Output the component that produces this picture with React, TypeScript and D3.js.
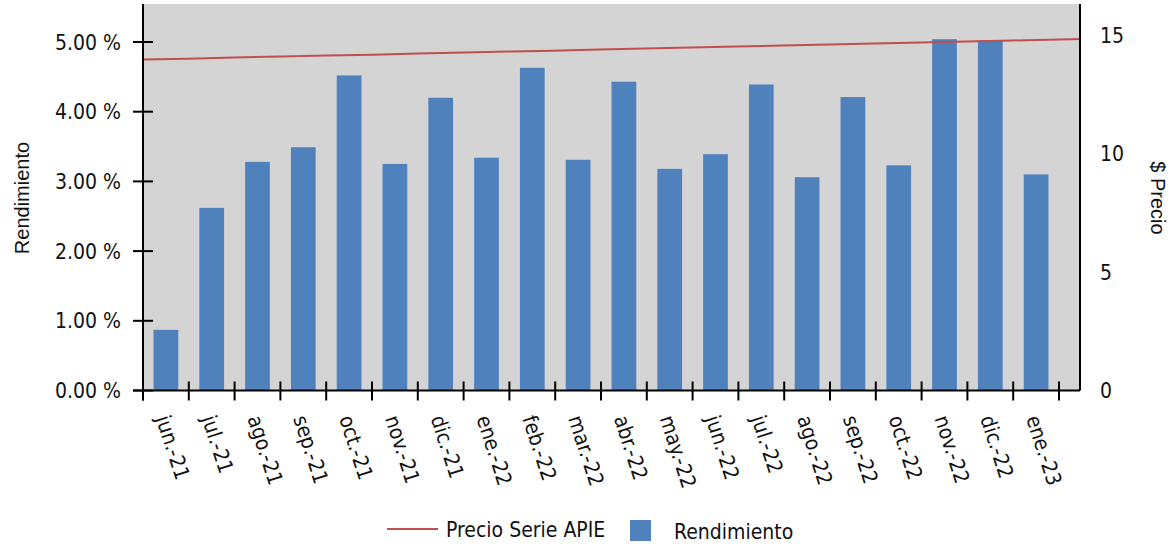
import * as d3 from "d3"

const months = [
    "jun.-21", "jul.-21", "ago.-21", "sep.-21", "oct.-21", "nov.-21", "dic.-21",
    "ene.-22", "feb.-22", "mar.-22", "abr.-22", "may.-22", "jun.-22", "jul.-22",
    "ago.-22", "sep.-22", "oct.-22", "nov.-22", "dic.-22", "ene.-23",
]
// rendimiento mensual, en %
const rendimiento = [
    0.87, 2.62, 3.28, 3.49, 4.52, 3.25, 4.2, 3.34, 4.63, 3.31, 4.43, 3.18, 3.39,
    4.39, 3.06, 4.21, 3.23, 5.04, 5.02, 3.1,
]
const priceDates = [
    "2021-06-01", "2021-07-01", "2021-08-01", "2021-09-01", "2021-10-01", "2021-11-01",
    "2021-12-01", "2022-01-01", "2022-02-01", "2022-03-01", "2022-04-01", "2022-05-01",
    "2022-06-01", "2022-07-01", "2022-08-01", "2022-09-01", "2022-10-01", "2022-11-01",
    "2022-12-01", "2023-01-01", "2023-02-01", "2023-02-15",
]
const precio = [
    13.98, 14.02, 14.07, 14.11, 14.15, 14.19, 14.24, 14.28, 14.32, 14.36, 14.41,
    14.45, 14.49, 14.53, 14.58, 14.62, 14.66, 14.7, 14.75, 14.79, 14.83, 14.85,
]
const leftTicks = [0, 1, 2, 3, 4, 5]
const rightTicks = [0, 5, 10, 15]

const W = 1172
const H = 547
const plot = { left: 143, right: 1080, top: 4, bottom: 390.5 }
const bandEnd = 1059
const tickFont = "'DejaVu Sans Condensed', 'DejaVu Sans', sans-serif"
const titleFont = "'Liberation Sans', Arial, sans-serif"
const barColor = "#4f81bd"
const lineColor = "#c0504d"

export default function App() {
    const x = d3
        .scaleBand()
        .domain(months)
        .range([plot.left, bandEnd])
        .paddingInner(0.46)
        .paddingOuter(0.23)
    const step = x.step()
    const gap = (step - x.bandwidth()) / 2

    const yL = d3.scaleLinear().domain([0, 5.545]).range([plot.bottom, plot.top])
    const yR = d3.scaleLinear().domain([0, 16.33]).range([plot.bottom, plot.top])

    const parse = d3.timeParse("%Y-%m-%d")
    const dates = priceDates.map((d) => parse(d) as Date)
    const xt = d3
        .scaleTime()
        .domain([dates[0], dates[dates.length - 1]])
        .range([plot.left, plot.right])
    const line = d3
        .line<number>()
        .x((_, i) => xt(dates[i]))
        .y((d) => yR(d))

    const boundaries = months.map((m) => (x(m) as number) - gap).concat([bandEnd])

    return (
        <div style={{ position: "absolute", left: 0, top: 0 }}>
            <svg width={W} height={H} style={{ display: "block", background: "#fff" }}>
                <rect
                    x={plot.left}
                    y={plot.top}
                    width={plot.right - plot.left}
                    height={plot.bottom - plot.top}
                    fill="#d4d4d4"
                />
                {rendimiento.map((v, i) => (
                    <rect
                        key={months[i]}
                        x={x(months[i])}
                        y={yL(v)}
                        width={x.bandwidth()}
                        height={plot.bottom - yL(v)}
                        fill={barColor}
                    />
                ))}
                <path d={line(precio) ?? ""} fill="none" stroke={lineColor} strokeWidth={2} />

                {/* eje izquierdo */}
                <line x1={plot.left} x2={plot.left} y1={plot.top} y2={plot.bottom + 10} stroke="#000" strokeWidth={2} />
                {leftTicks.map((t) => (
                    <g key={t}>
                        <line x1={plot.left - 10} x2={plot.left + 10} y1={yL(t)} y2={yL(t)} stroke="#000" strokeWidth={2} />
                        <text
                            x={121}
                            y={yL(t)}
                            dy="0.36em"
                            textAnchor="end"
                            fontFamily={tickFont}
                            fontSize={21}
                            fill="#111"
                        >
                            {t.toFixed(2) + " %"}
                        </text>
                    </g>
                ))}

                {/* eje derecho */}
                <line x1={plot.right} x2={plot.right} y1={plot.top} y2={plot.bottom} stroke="#000" strokeWidth={2} />
                {rightTicks.map((t) => (
                    <text
                        key={t}
                        x={1100}
                        y={yR(t)}
                        dy="0.36em"
                        fontFamily={tickFont}
                        fontSize={21}
                        fill="#111"
                    >
                        {t}
                    </text>
                ))}

                {/* eje inferior */}
                <line x1={plot.left - 10} x2={plot.right} y1={plot.bottom} y2={plot.bottom} stroke="#000" strokeWidth={2} />
                {boundaries.map((b, i) => (
                    <line key={i} x1={b} x2={b} y1={plot.bottom - 9} y2={plot.bottom + 10} stroke="#000" strokeWidth={2} />
                ))}
                {months.map((m) => {
                    const cx = (x(m) as number) + x.bandwidth() / 2 - 3
                    return (
                        <text
                            key={m}
                            transform={`translate(${cx},416) rotate(72)`}
                            dy="0.36em"
                            fontFamily={tickFont}
                            fontSize={21}
                            fill="#111"
                        >
                            {m}
                        </text>
                    )
                })}

                {/* títulos de ejes */}
                <text
                    transform="translate(29,198) rotate(-90)"
                    textAnchor="middle"
                    fontFamily={titleFont}
                    fontSize={20}
                    fill="#111"
                >
                    Rendimiento
                </text>
                <text
                    transform="translate(1151,198) rotate(90)"
                    textAnchor="middle"
                    fontFamily={titleFont}
                    fontSize={20}
                    fill="#111"
                >
                    $ Precio
                </text>

                {/* leyenda */}
                <line x1={387} x2={438} y1={529} y2={529} stroke={lineColor} strokeWidth={2} />
                <text x={446} y={529} dy="0.36em" fontFamily={tickFont} fontSize={21} fill="#111">
                    Precio Serie APIE
                </text>
                <rect x={630} y={520} width={21} height={21} fill={barColor} />
                <text x={674} y={531} dy="0.36em" fontFamily={tickFont} fontSize={21} fill="#111">
                    Rendimiento
                </text>
            </svg>
        </div>
    )
}
